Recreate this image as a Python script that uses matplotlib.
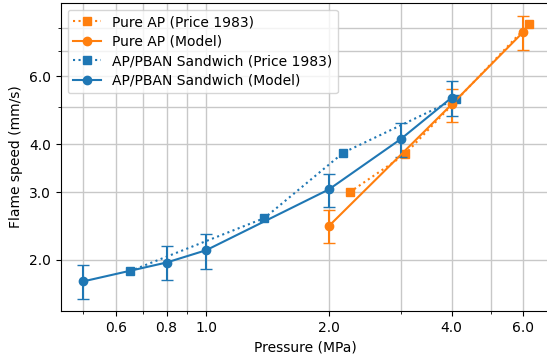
import matplotlib
matplotlib.use("Agg")
import matplotlib.pyplot as plt
from matplotlib.ticker import FixedLocator, FixedFormatter, NullFormatter

# Data
# ============================
ap_price_p = [2.25, 3.07, 6.18]
ap_price_v = [3.00, 3.76, 8.19]

ap_model_p = [2.0, 4.0, 6.0]
ap_model_v = [2.45, 5.07, 7.83]
ap_model_err = [0.24, 0.50, 0.80]

sw_price_p = [0.65, 1.39, 2.17, 4.10]
sw_price_v = [1.87, 2.57, 3.80, 5.24]

sw_model_p = [0.5, 0.8, 1.0, 2.0, 3.0, 4.0]
sw_model_v = [1.76, 1.97, 2.12, 3.05, 4.12, 5.28]
sw_model_err = [0.18, 0.20, 0.22, 0.30, 0.41, 0.55]

x_major = [0.6, 0.8, 1.0, 2.0, 4.0, 6.0]
x_minor = [0.5, 0.7, 0.9, 3.0, 5.0]
y_major = [2.0, 3.0, 4.0, 6.0]
y_minor = [5.0, 7.0, 8.0]

ORANGE = '#ff7f0e'
BLUE = '#1f77b4'

fig = plt.figure(figsize=(5.47, 3.56), dpi=100)
ax = fig.add_axes([0.111, 0.1264, 0.893, 0.866])

h1, = ax.plot(ap_price_p, ap_price_v, ls=':', marker='s', color=ORANGE,
              label='Pure AP (Price 1983)')
h2 = ax.errorbar(ap_model_p, ap_model_v, yerr=ap_model_err, ls='-', marker='o',
                 color=ORANGE, capsize=4.5, label='Pure AP (Model)')
h3, = ax.plot(sw_price_p, sw_price_v, ls=':', marker='s', color=BLUE,
              label='AP/PBAN Sandwich (Price 1983)')
h4 = ax.errorbar(sw_model_p, sw_model_v, yerr=sw_model_err, ls='-', marker='o',
                 color=BLUE, capsize=4.5, label='AP/PBAN Sandwich (Model)')

ax.set_xscale('log')
ax.set_yscale('log')
ax.set_xlim(0.44, 6.94)
ax.set_ylim(1.474, 9.32)

ax.xaxis.set_major_locator(FixedLocator(x_major))
ax.xaxis.set_major_formatter(FixedFormatter([f"{v:.1f}" for v in x_major]))
ax.xaxis.set_minor_locator(FixedLocator(x_minor))
ax.xaxis.set_minor_formatter(NullFormatter())
ax.yaxis.set_major_locator(FixedLocator(y_major))
ax.yaxis.set_major_formatter(FixedFormatter([f"{v:.1f}" for v in y_major]))
ax.yaxis.set_minor_locator(FixedLocator(y_minor))
ax.yaxis.set_minor_formatter(NullFormatter())

ax.grid(which='both', color='#c8c8c8', lw=1)
ax.set_axisbelow(True)

ax.set_xlabel('Pressure (MPa)')
ax.set_ylabel('Flame speed (mm/s)')
# legend shows plain line+marker handles, no error bars
ax.legend(handles=[h1, h2[0], h3, h4[0]],
          labels=['Pure AP (Price 1983)', 'Pure AP (Model)',
                  'AP/PBAN Sandwich (Price 1983)', 'AP/PBAN Sandwich (Model)'],
          loc='upper left', labelspacing=0.4)

fig.savefig('out.png', dpi=100)
